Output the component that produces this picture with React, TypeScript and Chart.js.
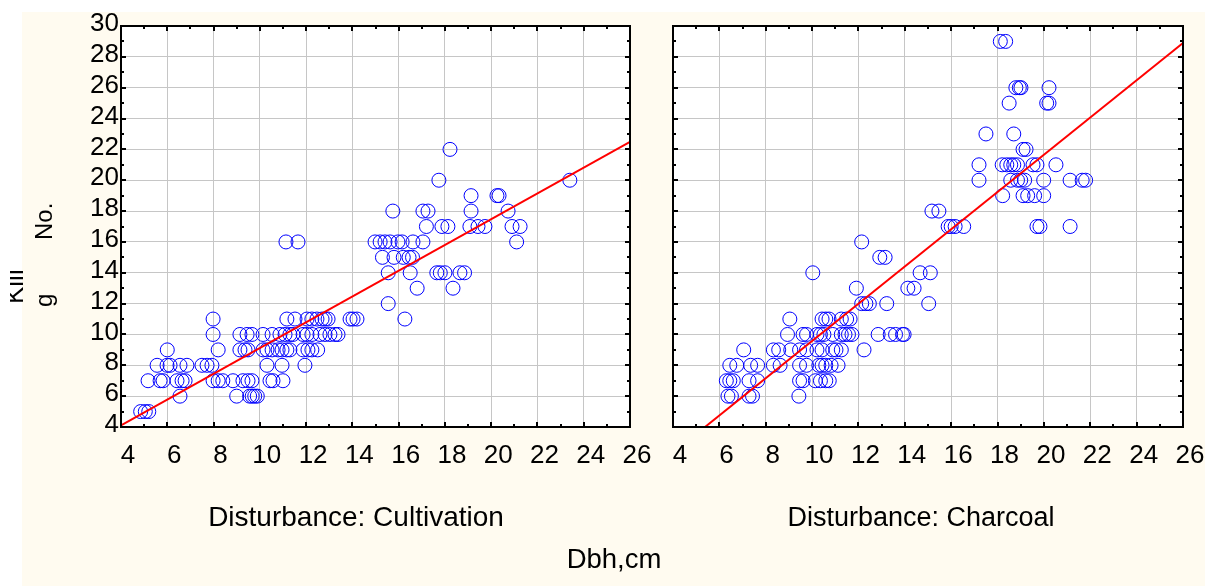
import React, { useEffect, useRef } from "react";
import { Chart, registerables } from "chart.js";

Chart.register(...registerables);

// ---------- data ----------
const xTickMin = 4;
const xTickMax = 26;
const yTickMin = 4;
const yTickMax = 30;
const tickStep = 2;

// Disturbance: Cultivation  (Dbh, cm  /  Killing No.)
const cultivationDbh = [
  4.85, 5.05, 5.2,
  6.55, 9.0, 9.56, 9.67, 9.78, 9.89,
  5.17, 5.69, 5.82, 6.42, 6.64, 6.77, 7.98, 8.2, 8.4, 8.84, 9.27, 9.49, 9.66, 10.44, 10.57, 11.0,
  5.56, 5.99, 6.12, 6.55, 6.85, 7.5, 7.72, 7.93, 10.31, 10.96, 11.95,
  6.0, 8.2, 9.14, 9.36, 9.49, 10.14, 10.31, 10.53, 10.79, 10.96, 11.17, 11.3, 11.87, 12.08, 12.25, 12.5,
  7.98, 9.14, 9.45, 9.66, 10.14, 10.53, 10.87, 11.09, 11.3, 11.43, 11.87, 12.04, 12.25, 12.6, 12.82, 13.03, 13.25, 13.38,
  7.98, 11.17, 11.52, 12.04, 12.25, 12.47, 12.69, 12.82, 12.95, 13.9, 14.03, 14.2, 16.27,
  15.55,
  16.8, 18.35,
  15.55, 16.5, 17.65, 17.8, 18.0, 18.65, 18.85,
  15.3, 15.8, 16.2, 16.45, 16.6,
  11.13, 11.65, 14.98, 15.2, 15.41, 15.63, 15.97, 16.15, 16.62, 17.05, 21.1,
  17.2, 17.87, 18.13, 19.08, 19.43, 19.73, 20.9, 21.25,
  15.75, 17.05, 17.27, 19.13, 20.73,
  19.13, 20.25, 20.34,
  17.74, 23.4,
  18.22,
];
const cultivationKilling = [
  5, 5, 5,
  6, 6, 6, 6, 6, 6,
  7, 7, 7, 7, 7, 7, 7, 7, 7, 7, 7, 7, 7, 7, 7, 7,
  8, 8, 8, 8, 8, 8, 8, 8, 8, 8, 8,
  9, 9, 9, 9, 9, 9, 9, 9, 9, 9, 9, 9, 9, 9, 9, 9,
  10, 10, 10, 10, 10, 10, 10, 10, 10, 10, 10, 10, 10, 10, 10, 10, 10, 10,
  11, 11, 11, 11, 11, 11, 11, 11, 11, 11, 11, 11, 11,
  12,
  13, 13,
  14, 14, 14, 14, 14, 14, 14,
  15, 15, 15, 15, 15,
  16, 16, 16, 16, 16, 16, 16, 16, 16, 16, 16,
  17, 17, 17, 17, 17, 17, 17, 17,
  18, 18, 18, 18, 18,
  19, 19, 19,
  20, 20,
  22,
];

// Disturbance: Charcoal
const charcoalDbh = [
  6.37, 6.52, 7.28, 7.43, 9.43,
  6.3, 6.45, 6.6, 7.28, 7.65, 9.46, 9.61, 10.14, 10.36, 10.59, 10.74,
  6.45, 6.75, 7.35, 7.65, 8.33, 8.62, 9.46, 9.76, 10.29, 10.43, 10.59, 10.82, 11.12,
  7.05, 8.33, 8.56, 9.08, 9.46, 9.76, 10.21, 10.43, 10.89, 11.03, 11.26, 12.24,
  8.94, 9.61, 9.76, 10.21, 10.36, 10.51, 10.89, 11.26, 11.42, 11.57, 11.72, 12.85, 13.37, 13.6, 13.9, 13.97,
  9.04, 10.43, 10.59, 10.73, 11.26, 11.49, 11.64,
  12.14, 12.32, 12.47, 13.22, 15.03,
  11.91, 14.13, 14.4,
  10.03, 14.66, 15.1,
  12.92, 13.15,
  12.14,
  15.87, 16.0, 16.17, 16.54, 19.7, 19.83, 21.13,
  15.17, 15.47,
  18.22, 19.1, 19.3, 19.6, 19.99,
  17.2, 18.57, 18.86, 19.0, 19.17, 19.99, 21.13, 21.65, 21.8,
  17.2, 18.2, 18.4, 18.57, 18.7, 18.86, 19.53, 19.7, 20.52,
  19.1, 19.23,
  17.5, 18.7,
  18.5, 20.12, 20.22,
  18.79, 18.94, 19.01, 20.22,
  18.12, 18.35,
];
const charcoalKilling = [
  6, 6, 6, 6, 6,
  7, 7, 7, 7, 7, 7, 7, 7, 7, 7, 7,
  8, 8, 8, 8, 8, 8, 8, 8, 8, 8, 8, 8, 8,
  9, 9, 9, 9, 9, 9, 9, 9, 9, 9, 9, 9,
  10, 10, 10, 10, 10, 10, 10, 10, 10, 10, 10, 10, 10, 10, 10, 10,
  11, 11, 11, 11, 11, 11, 11,
  12, 12, 12, 12, 12,
  13, 13, 13,
  14, 14, 14,
  15, 15,
  16,
  17, 17, 17, 17, 17, 17, 17,
  18, 18,
  19, 19, 19, 19, 19,
  20, 20, 20, 20, 20, 20, 20, 20, 20,
  21, 21, 21, 21, 21, 21, 21, 21, 21,
  22, 22,
  23, 23,
  25, 25, 25,
  26, 26, 26, 26,
  29, 29,
];

// linear fits (intercept, slope)
const cultivationFit = [0.756, 0.836];
const charcoalFit = [-2.497, 1.2076];

const panelTitles = ["Disturbance: Cultivation", "Disturbance: Charcoal"];
const xAxisTitle = "Dbh,cm";
const yAxisTitleParts = ["Kill", "g", "No."];

// ---------- styling ----------
const W = 1205;
const H = 586;
const FONT = "'Liberation Sans', Arial, Helvetica, sans-serif";
const CREAM = "#FFFBF0";

const framePlugin = {
  id: "statFrame",
  beforeDraw(chart: any) {
    const { ctx, chartArea: a } = chart;
    ctx.save();
    ctx.fillStyle = "#ffffff";
    ctx.fillRect(a.left, a.top, a.right - a.left, a.bottom - a.top);
    ctx.restore();
  },
  afterDraw(chart: any) {
    const { ctx, chartArea: a, scales } = chart;
    const x = scales.x;
    const y = scales.y;
    ctx.save();
    ctx.strokeStyle = "#000";
    ctx.lineWidth = 2;
    ctx.beginPath();
    for (let v = xTickMin; v <= xTickMax; v += tickStep / 2) {
      const px = Math.round(x.getPixelForValue(v));
      const len = (v - xTickMin) % tickStep === 0 ? 5 : 3;
      ctx.moveTo(px, a.top);
      ctx.lineTo(px, a.top + len);
      ctx.moveTo(px, a.bottom);
      ctx.lineTo(px, a.bottom - len);
    }
    for (let v = yTickMin; v <= yTickMax; v += tickStep / 2) {
      const py = Math.round(y.getPixelForValue(v));
      const len = (v - yTickMin) % tickStep === 0 ? 5 : 3;
      ctx.moveTo(a.left, py);
      ctx.lineTo(a.left + len, py);
      ctx.moveTo(a.right, py);
      ctx.lineTo(a.right - len, py);
    }
    ctx.stroke();
    ctx.lineWidth = 2;
    ctx.strokeRect(a.left, a.top, a.right - a.left, a.bottom - a.top);
    ctx.restore();
  },
};

function makeConfig(
  dbh: number[],
  killing: number[],
  fit: number[],
  plotLeft: number,
  plotRight: number,
  showYLabels: boolean
): any {
  const points = dbh.map((d, i) => ({ x: d, y: killing[i] }));
  const [b, m] = fit;
  const x0 = Math.max(xTickMin, (yTickMin - b) / m);
  const x1 = Math.min(xTickMax, (yTickMax - b) / m);
  const line = [
    { x: x0, y: b + m * x0 },
    { x: x1, y: b + m * x1 },
  ];
  const plotTop = 26;
  const plotBottom = 427;
  return {
    type: "scatter",
    data: {
      datasets: [
        {
          data: line,
          showLine: true,
          borderColor: "#ff0000",
          borderWidth: 2,
          pointRadius: 0,
          pointHoverRadius: 0,
          fill: false,
        },
        {
          data: points,
          borderColor: "#0000ff",
          backgroundColor: "rgba(0,0,0,0)",
          borderWidth: 1,
          pointRadius: 7,
          pointHoverRadius: 7,
          pointStyle: "circle",
        },
      ],
    },
    options: {
      responsive: false,
      animation: false,
      events: [],
      layout: {
        padding: { left: 0, top: plotTop, right: W - plotRight, bottom: 0 },
      },
      plugins: {
        legend: { display: false },
        tooltip: { enabled: false },
        title: { display: false },
      },
      scales: {
        x: {
          type: "linear",
          min: xTickMin,
          max: xTickMax,
          ticks: {
            stepSize: tickStep,
            autoSkip: false,
            maxRotation: 0,
            minRotation: 0,
            padding: 13,
            labelOffset: 7,
            color: "#000",
            font: { family: FONT, size: 26 },
          },
          grid: { color: "#c6c6c6", lineWidth: 1, drawTicks: false },
          border: { display: false },
          afterFit: (s: any) => {
            s.height = H - plotBottom;
            s.paddingLeft = 0;
            s.paddingRight = 0;
          },
        },
        y: {
          type: "linear",
          min: yTickMin,
          max: yTickMax,
          ticks: {
            display: showYLabels,
            stepSize: tickStep,
            autoSkip: false,
            padding: 2,
            labelOffset: -2,
            color: "#000",
            font: { family: FONT, size: 26 },
          },
          grid: { color: "#c6c6c6", lineWidth: 1, drawTicks: false },
          border: { display: false },
          afterFit: (s: any) => {
            s.width = plotLeft;
            s.paddingTop = 0;
            s.paddingBottom = 0;
          },
        },
      },
    },
    plugins: [framePlugin],
  };
}

export default function App() {
  const leftRef = useRef<HTMLCanvasElement | null>(null);
  const rightRef = useRef<HTMLCanvasElement | null>(null);

  useEffect(() => {
    const c1 = new Chart(
      leftRef.current as HTMLCanvasElement,
      makeConfig(cultivationDbh, cultivationKilling, cultivationFit, 121, 630, true)
    );
    const c2 = new Chart(
      rightRef.current as HTMLCanvasElement,
      makeConfig(charcoalDbh, charcoalKilling, charcoalFit, 673, 1183, false)
    );
    return () => {
      c1.destroy();
      c2.destroy();
    };
  }, []);

  const canvasStyle: React.CSSProperties = {
    position: "absolute",
    left: 0,
    top: 0,
    width: W,
    height: H,
  };
  const textBase: React.CSSProperties = {
    position: "absolute",
    fontFamily: FONT,
    color: "#000",
    whiteSpace: "nowrap",
    lineHeight: 1,
  };
  const rotated = (left: number, top: number, size: number): React.CSSProperties => ({
    ...textBase,
    fontSize: size,
    left,
    top,
    transformOrigin: "0 0",
    transform: "rotate(-90deg)",
  });

  return (
    <div
      style={{
        position: "absolute",
        left: 0,
        top: 0,
        width: W,
        height: H,
        background: "#ffffff",
        overflow: "hidden",
      }}
    >
      <div
        style={{
          position: "absolute",
          left: 22,
          top: 12,
          width: W - 22,
          height: H - 12,
          background: CREAM,
        }}
      />
      <canvas ref={leftRef} width={W} height={H} style={canvasStyle} />
      <canvas ref={rightRef} width={W} height={H} style={canvasStyle} />

      <div style={{ ...textBase, fontSize: 28, left: 356, top: 503, transform: "translateX(-50%)" }}>
        {panelTitles[0]}
      </div>
      <div style={{ ...textBase, fontSize: 27, left: 921, top: 504, transform: "translateX(-50%)" }}>
        {panelTitles[1]}
      </div>
      <div style={{ ...textBase, fontSize: 27.5, left: 614, top: 545, transform: "translateX(-50%)" }}>
        {xAxisTitle}
      </div>

      <div
        style={{
          position: "absolute",
          left: 9.5,
          top: 0,
          width: 14,
          height: H,
          overflow: "hidden",
        }}
      >
        <div style={rotated(1 - 9.5, 304, 26)}>{yAxisTitleParts[0]}</div>
      </div>
      <div style={rotated(31.7, 307, 24)}>{yAxisTitleParts[1]}</div>
      <div style={rotated(31.7, 240, 24)}>{yAxisTitleParts[2]}</div>
    </div>
  );
}
